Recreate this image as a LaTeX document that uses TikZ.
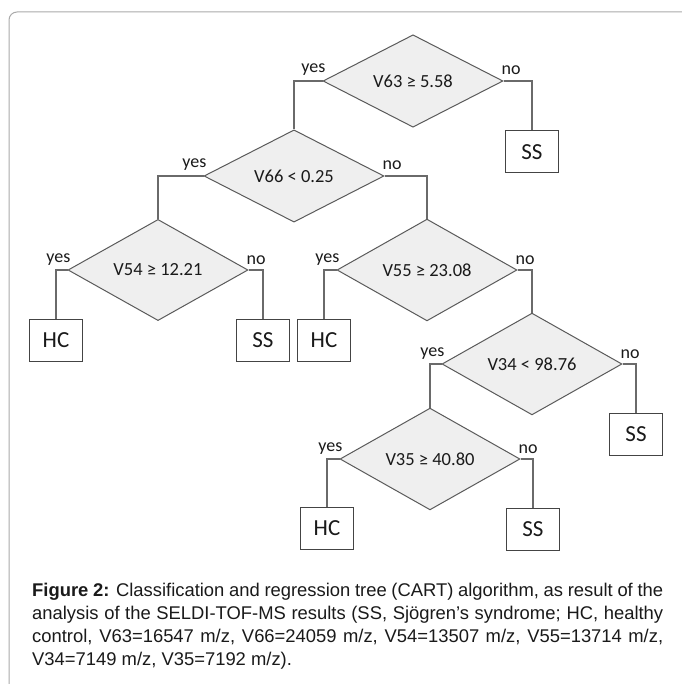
\documentclass[tikz,border=0pt]{standalone}
\usepackage{fontspec}
\setmainfont{Carlito}
\newfontfamily\capfont{Liberation Sans}
\usetikzlibrary{shapes.geometric}
\definecolor{diafill}{HTML}{EFEFEF}
\definecolor{diadraw}{HTML}{5A5A5A}
\definecolor{linec}{HTML}{6A6A6A}
\definecolor{boxdraw}{HTML}{444444}
\definecolor{framec}{HTML}{AAAAAA}
\definecolor{txt}{HTML}{1A1A1A}
\begin{document}
\begin{tikzpicture}[x=1pt,y=-1pt,
  dia/.style={diamond, draw=diadraw, fill=diafill, line width=1pt,
    minimum width=180pt, minimum height=82pt, inner sep=0pt,
    text=txt, font=\fontsize{18.5}{20}\selectfont},
  leaf/.style={rectangle, draw=boxdraw, line width=1pt,
    minimum width=53pt, minimum height=42pt, inner sep=0pt,
    text=txt, font=\fontsize{23}{25}\selectfont},
  conn/.style={draw=linec, line width=1.2pt},
  lbl/.style={inner sep=0pt, text=txt, font=\fontsize{18}{20}\selectfont},
  yeslbl/.style={lbl, anchor=base east},
  nolbl/.style={lbl, anchor=base west},
]
\useasboundingbox (0,0) rectangle (681,684);
\fill[white] (0,0) rectangle (681,684);
% frame
\draw[framec, line width=1pt, rounded corners=8pt] (690,12) -- (9,12) -- (9,690);

% decision nodes
\node[dia] (v63) at (413,81) {V63 ≥ 5.58};
\node[dia] (v66) at (294,176) {V66 < 0.25};
\node[dia] (v54) at (158,270) {V54 ≥ 12.21};
\node[dia] (v55) at (427,270) {V55 ≥ 23.08};
\node[dia] (v34) at (532,364) {V34 < 98.76};
\node[dia] (v35) at (430,459) {V35 ≥ 40.80};

% leaves
\node[leaf] (ss1) at (532,152) {SS};
\node[leaf] (hc1) at (56,340) {HC};
\node[leaf] (ss2) at (263,340) {SS};
\node[leaf] (hc3) at (324,340) {HC};
\node[leaf] (ss4) at (636,434) {SS};
\node[leaf] (hc5) at (327,528) {HC};
\node[leaf] (ss6) at (533,529) {SS};

% connectors
\draw[conn] (v63.west) -| (v66.north);
\draw[conn] (v63.east) -| (ss1.north);
\draw[conn] (v66.west) -| (v54.north);
\draw[conn] (v66.east) -| (v55.north);
\draw[conn] (v54.west) -| (hc1.north);
\draw[conn] (v54.east) -| (ss2.north);
\draw[conn] (v55.west) -| (hc3.north);
\draw[conn] (v55.east) -| (v34.north);
\draw[conn] (v34.west) -| (v35.north);
\draw[conn] (v34.east) -| (ss4.north);
\draw[conn] (v35.west) -| (hc5.north);
\draw[conn] (v35.east) -| (ss6.north);

% yes / no labels
\foreach \n in {v63,v66,v54,v55,v34,v35}{
  \node[yeslbl] (\n-yes) at ([shift={(3,-8)}]\n.west) {yes};
  \node[nolbl] (\n-no) at ([shift={(-2,-6)}]\n.east) {no};
}

% caption
\node[anchor=base west, text width=631pt, align=justify, inner sep=0pt,
  text=txt, font=\capfont\fontsize{18.4}{23.3}\selectfont] (cap) at (32,596)
  {\textbf{Figure 2:} Classification and regression tree (CART) algorithm, as result of the\linebreak
   analysis of the SELDI-TOF-MS results (SS, Sjögren’s syndrome; HC, healthy\linebreak
   control, V63=16547 m/z, V66=24059 m/z, V54=13507 m/z, V55=13714 m/z,\linebreak
   V34=7149 m/z, V35=7192 m/z).};
\end{tikzpicture}
\end{document}
